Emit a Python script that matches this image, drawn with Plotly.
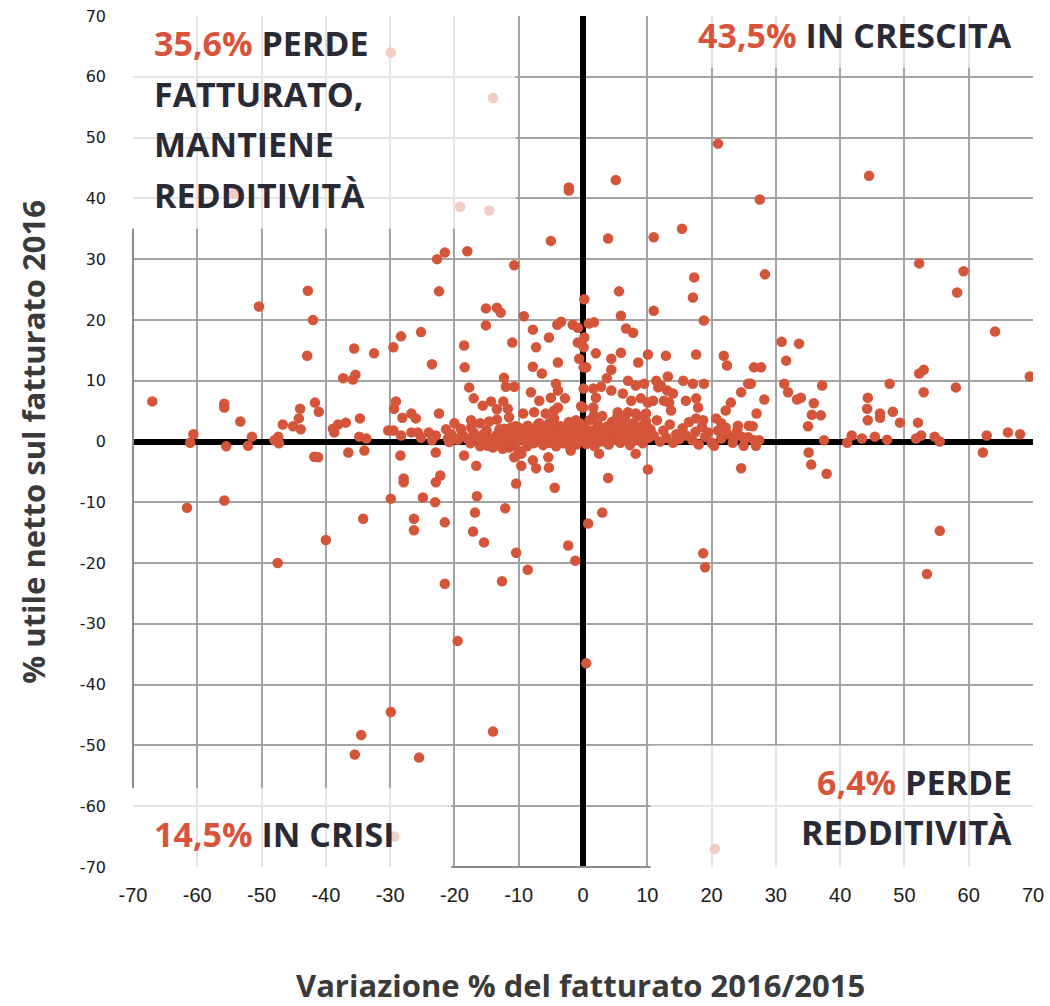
import plotly.graph_objects as go

# ---- data : (variazione % fatturato, % utile netto) ----
left_pts = [
    (-67, 6.6), (-61.6, -10.9), (-61.1, -0.2), (-60.6, 1.2), (-55.8, 6.2), (-55.8, 5.6),
    (-55.8, -9.7), (-55.5, -0.8), (-53.3, 3.3), (-52.1, -0.7), (-51.5, 0.8), (-50.4, 22.2),
    (-48, 0.2), (-47.4, 0.8), (-47.3, -0.3), (-47.5, -20), (-46.7, 2.8), (-45.1, 2.5),
    (-44.2, 3.8), (-44, 5.4), (-43.9, 2), (-42.9, 14.1), (-42.8, 24.8), (-42, 20),
    (-41.7, 6.4), (-41.1, 4.9), (-41.8, -2.5), (-41.2, -2.6), (-40, -16.2), (-38.9, 2.1),
    (-38.7, 1.5), (-38.1, 2.8), (-37.3, 10.4), (-36.9, 3.1), (-36.5, -1.8), (-35.8, 10.2),
    (-35.6, 15.3), (-35.4, 11), (-35.5, -51.5), (-34.8, 0.8), (-34.7, 3.8), (-34.5, -48.3),
    (-34.2, -12.7), (-34, -1.5), (-33.7, 0.5), (-32.5, 14.5), (-30.3, 1.8), (-29.9, -9.4),
    (-29.9, -44.5), (-29.5, 1.8), (-29.5, 15.5), (-29.4, 5.4), (-29.1, 6.6), (-28.4, -2.3),
    (-28.3, 17.3), (-28.3, 1), (-28.1, 3.9), (-27.9, -6.1), (-27.9, -6.7), (-26.7, 4.6),
    (-26.7, 1.5), (-26.3, -12.7), (-26.3, -14.6), (-26, 3.8), (-25.7, 1.5), (-25.5, -52),
    (-25.2, 18), (-25.2, 0.6), (-24.9, -9.2), (-24, 1.5), (-23.5, 12.7), (-23.5, 0.2),
    (-23, -10), (-22.9, 1), (-22.9, -1.8), (-22.9, -6.7), (-22.7, 30), (-22.4, 24.7),
    (-22.4, 4.6), (-22.2, -5.6), (-21.5, 31.1), (-21.5, -13.3), (-21.5, -23.4), (-21.3, 2),
    (-21, 0.5), (-20.5, 1.2),
]

hidden_pts = [
    (-54.3, 40.8), (-29.9, 64), (-29.4, -65), (-19.1, 38.6), (-14.6, 38), (-14, 56.5),
    (20.5, -67),
]

mid_left_pts = [
    (-20, 3), (-20.8, -0.1), (-19.4, 0.5), (-19.5, -32.8), (-19, 2.1), (-18.5, 15.8),
    (-18.5, -2.3), (-18.4, 12.2), (-18, 31.3), (-17.7, 8.9), (-17.4, 3.5), (-17.4, 2.3),
    (-17.1, -14.8), (-17, 7.1), (-16.8, -11.7), (-16.6, -4), (-16.5, -9), (-16, 3),
    (-15.9, -0.2), (-15.6, 5.9), (-15.4, 1.3), (-15.4, -16.6), (-15.1, 21.9), (-15.1, 19.1),
    (-14.8, -0.7), (-14.6, 3.3), (-14.3, 6.6), (-14, -1), (-14, -47.7), (-13.4, 22),
    (-13.4, 5.3), (-13.4, 3.6), (-12.8, 21.2), (-12.6, -23), (-12.4, 6.6), (-12.3, 10.5),
    (-12.3, 2.1), (-12.1, -11), (-12, 9), (-11.7, 5.4), (-11.5, 4), (-11.5, -1),
    (-11.2, 2.3), (-11, 16.3), (-10.7, 29), (-10.7, 9), (-10.7, -2.6), (-10.4, -6.9),
    (-10.4, -18.3), (-10, 2.3), (-9.6, -2), (-9.6, -4), (-9.3, 4.6), (-9.2, 20.6),
    (-8.6, 2.6), (-8.6, -21.1), (-8.1, 8.1), (-7.8, 18.4), (-7.8, 12.3), (-7.8, -3.1),
    (-7.6, 4.8), (-7.3, 15.5), (-7.3, -4.4), (-6.8, 6.7), (-6.8, 3), (-6.4, 11.2),
    (-5.8, 4.6), (-5.4, -2.6), (-5.3, 17.1), (-5.3, 3), (-5.3, -4.3), (-5, 33),
    (-5, 7.2), (-4.5, 5.1), (-4.4, -7.6), (-4.2, 9.5), (-4.2, 2.5), (-4, 19.2),
    (-3.9, 13), (-3.9, 8.4), (-3.9, 5.6), (-3.4, 19.7), (-2.8, 7.1), (-2.3, 2.5),
    (-2.3, -17.1), (-2.2, 41.8), (-2.2, 41.3), (-1.9, -1.5), (-1.6, 19.2), (-1.2, -19.6),
    (-1.1, 3.5), (-0.8, 18.7), (-0.8, 16.3), (-0.6, 13.6), (-0.3, 5.8),
]

mid_right_pts = [
    (0.1, 15.5), (0.2, 23.4), (0.2, 17.1), (0.1, 12.2), (0.1, 8.7), (0, 5.6),
    (0.5, 12.2), (0.5, -36.5), (0.8, -13.5), (0.9, 19.4), (1.6, 8.7), (1.6, 5.6),
    (1.7, 19.6), (1.7, 4.3), (2, 14.5), (2, 7.2), (2.5, -2), (2.8, 9),
    (3, -11.7), (3.7, 10.4), (3.9, 33.4), (3.9, -6), (4.4, 13.6), (4.4, 11.8),
    (4.4, 8.4), (5.1, 43), (5.4, 4.8), (5.6, 24.7), (5.9, 20.7), (5.9, 14.6),
    (6.2, 7.9), (6.7, 18.6), (7, 10), (7, 4.8), (7.5, 6.7), (7.8, 17.9),
    (8.2, 9.2), (8.2, 4.6), (8.2, -2), (8.6, 13), (9, 7.1), (9.5, 9.5),
    (9.8, 4.6), (10.1, 14.3), (10.1, 6.4), (10.1, -4.6), (10.9, 6.7), (11, 33.6),
    (11, 21.5), (11.4, 10), (11.7, 8.9), (12.1, 9.2), (12.6, 6.7), (12.9, 14.1),
    (13.1, 8.4), (13.2, 10.7), (13.4, 6.4), (13.7, 5.1), (14, 7.9), (15.4, 35),
    (15.6, 10), (16, 6.7), (17.1, 23.7), (17.1, 9.5), (17.3, 27), (17.6, 14.3),
    (17.6, 7.1), (17.6, 3.8), (17.9, 5.6), (18.7, 3.5), (18.7, -18.4), (18.8, 19.9),
    (18.8, 9.5), (19, -20.7), (20.4, -0.7), (20.7, 3.8), (21, 49), (21.5, 3),
    (21.9, 14.1), (22.2, 5.1), (22.2, 2.3), (22.4, 12.5), (23, 6.4), (23.3, -0.2),
    (24.1, 2.6), (24.6, 8.1), (24.6, -4.4), (24.9, 0.7), (25, -0.7), (25.7, 9.5),
    (25.7, 0.7), (25.8, 2.6), (26.1, 9.5), (26.4, 2.5), (26.6, 12.2), (26.6, 0.2),
    (26.9, -0.7), (27, 4.6), (27.4, 0.2), (27.5, 39.8), (27.7, 12.2), (28.2, 6.9),
    (28.3, 27.5),
]

right_pts = [
    (30.9, 16.4), (31.3, 9.5), (31.6, 13.3), (31.9, 8.1), (33.3, 6.9), (33.6, 16.1),
    (33.9, 7.2), (35, 2.5), (35.1, -1.8), (35.5, -3.8), (35.6, 4.4), (35.9, 6.3),
    (37, 4.3), (37.2, 9.2), (37.5, 0.2), (37.9, -5.3), (41.1, -0.2), (41.8, 1),
    (43.4, 0.5), (44.2, 5.4), (44.3, 7.2), (44.3, 3.5), (44.5, 43.7), (45.4, 0.8),
    (46.2, 4.6), (46.2, 3.9), (47.3, 0.3), (47.7, 9.5), (48.2, 4.9), (49.3, 3.1),
    (51.8, 0.5), (52.1, 3.1), (52.3, 11.2), (52.3, 29.3), (52.6, 1), (53, 11.8),
    (53, 8.1), (53.5, -21.8), (54.7, 0.8), (55.5, 0), (55.5, -14.7), (58, 8.9),
    (58.2, 24.5), (59.2, 28), (62.2, -1.8), (62.8, 1), (64.1, 18.1), (66.1, 1.5),
    (68, 1.2), (69.5, 10.7),
]

core_pts = [
    (-19.5, 0.3), (-18.8, 1.2), (-18, 0.5), (-17.5, -0.3), (-17, 1.5), (-16.5, 0.8),
    (-16, -0.8), (-15.5, 0.2), (-15, 1.8), (-14.5, 0.5), (-14, -0.3), (-13.5, 1),
    (-13, 2), (-12.8, 0), (-12.5, -1.2), (-12, 0.8), (-11.8, 1.5), (-11.5, 0.3),
    (-11, -0.5), (-10.8, 1.2), (-10.5, 2.5), (-10.2, 0.2), (-10, -1.5),
    (-9.5, 0.8), (-9.2, 1.8), (-9, 0), (-8.7, -0.8), (-8.5, 1.2), (-8.2, 2.2),
    (-8, 0.4), (-7.7, -0.3), (-7.5, 1.5), (-7.2, 0.7), (-7, 2.8), (-6.8, 0),
    (-6.5, 1), (-6.2, -0.6), (-6, 1.8), (-5.7, 0.3), (-5.5, 2.3), (-5.2, -0.2),
    (-5, 1.2), (-4.7, 0.6), (-4.5, 3.8), (-4.2, -0.8), (-4, 1.5), (-3.7, 0.2),
    (-3.5, 2.5), (-3.2, 0.9), (-3, -0.3), (-2.7, 1.8), (-2.5, 0.4), (-2.2, 3.2),
    (-2, -1), (-1.7, 1.2), (-1.5, 0.2), (-1.2, 2), (-1, -0.5), (-0.7, 0.8),
    (-0.5, 3), (-0.3, 1.5), (0, 0.3),
    (0.3, 2.2), (0.5, -0.4), (0.8, 1), (1, 3.5), (1.3, 0.2), (1.5, 1.8),
    (1.8, -0.8), (2, 0.7), (2.3, 2.8), (2.5, 1.3), (2.8, 0), (3, 4.2),
    (3.3, 1.8), (3.5, 0.5), (3.8, 2.5), (4, -0.5), (4.3, 1.2), (4.5, 3.2),
    (4.8, 0.3), (5, 2), (5.3, 4), (5.5, 0.9), (5.8, -0.2), (6, 2.7),
    (6.3, 1.5), (6.5, 3.8), (6.8, 0.5), (7, 2.2), (7.3, -0.6), (7.5, 1.2),
    (7.8, 3), (8, 0.2), (8.3, 1.8), (8.5, 4.2), (8.8, 0.8), (9, 2.5),
    (9.3, -0.3), (9.5, 1.5), (9.8, 3.3),
    (10.2, 0.6), (10.5, 2), (11, 1), (11.5, 3.5), (12, 0), (12.5, 1.8),
    (13, 0.6), (13.5, 2.8), (14, -0.2), (14.5, 1.2), (15, 0.4), (15.5, 2.2),
    (16, 1), (16.5, 3.2), (17, 0.2), (17.5, 1.6), (18, -0.5), (18.5, 2.4),
    (19, 0.8), (19.5, 1.5), (20, -0.2), (21, 1.8), (21.5, 0.5), (22.5, 1.2),
    (23.5, 0.6), (24, 1.8),
]

tick_vals = [-70, -60, -50, -40, -30, -20, -10, 0, 10, 20, 30, 40, 50, 60, 70]
tick_text = ["-70", "-60", "-50", "-40", "-30", "-20", "-10", "0", "10", "20", "30", "40", "50", "60", "70"]

x_title = "Variazione % del fatturato 2016/2015"
y_title = "% utile netto sul fatturato 2016"

RED = "#D5553A"
PCT = "#D9533B"
DARK = "#2A2A36"

all_pts = left_pts + hidden_pts + mid_left_pts + mid_right_pts + right_pts + core_pts
xs = [p[0] for p in all_pts]
ys = [p[1] for p in all_pts]

fig = go.Figure()
fig.add_trace(go.Scatter(
    x=xs, y=ys, mode="markers",
    marker=dict(color=RED, size=10.5, line=dict(width=0)),
    hoverinfo="x+y", showlegend=False,
))

grid = "#a3a3a3"
fig.update_xaxes(
    range=[-70, 70], tickvals=tick_vals, ticktext=tick_text,
    showgrid=True, gridcolor=grid, gridwidth=1.5,
    zeroline=True, zerolinecolor="black", zerolinewidth=6,
    showline=False, ticks="", automargin=False,
    tickfont=dict(family="Liberation Sans Narrow, Liberation Sans, Arial", size=20, color="#1a1a1a"),
    ticklabelstandoff=14,
)
fig.update_yaxes(
    range=[-70, 70], tickvals=tick_vals, ticktext=tick_text,
    showgrid=True, gridcolor=grid, gridwidth=1.5,
    zeroline=True, zerolinecolor="black", zerolinewidth=6,
    showline=False, ticks="", automargin=False,
    tickfont=dict(family="DejaVu Sans, Verdana", size=16, color="#1a1a1a"),
    ticklabelstandoff=26,
)

# white translucent boxes behind the quadrant labels
boxes = [(-70, -10.5, 35, 70), (10.5, 70, 61.5, 70), (-70, -20.5, -70, -57), (10.5, 70, -70, -50)]
shapes = []
for x0, x1, y0, y1 in boxes:
    shapes.append(dict(type="rect", xref="x", yref="y", x0=x0, x1=x1, y0=y0, y1=y1,
                       fillcolor="white", opacity=0.7, line=dict(width=0), layer="above"))
# visible parts of the axis lines
shapes.append(dict(type="line", xref="paper", yref="y", x0=0, x1=0, y0=-57, y1=35,
                   line=dict(color="#8c8c8c", width=2), layer="above"))
shapes.append(dict(type="line", xref="x", yref="paper", x0=-20.5, x1=10.5, y0=0, y1=0,
                   line=dict(color="#8c8c8c", width=2), layer="above"))

lab_font = dict(family="Open Sans, Noto Sans, Arial", size=34, color=DARK, weight="bold")

def pct(s):
    return f"<span style='color:{PCT}'>{s}</span>"

ann = []
tl_lines = [(pct("35,6%") + " PERDE", 65.6), ("FATTURATO,", 57.2), ("MANTIENE", 48.9), ("REDDITIVITÀ", 40.6)]
for t, yv in tl_lines:
    ann.append(dict(x=-67.0, y=yv, xref="x", yref="y", text=t, showarrow=False,
                    xanchor="left", yanchor="middle", font=lab_font))
ann.append(dict(x=67.0, y=66.8, xref="x", yref="y", text=pct("43,5%") + " IN CRESCITA",
                showarrow=False, xanchor="right", yanchor="middle", font=lab_font))
ann.append(dict(x=67.0, y=-56.0, xref="x", yref="y", text=pct("6,4%") + " PERDE",
                showarrow=False, xanchor="right", yanchor="middle", font=lab_font))
ann.append(dict(x=67.0, y=-64.3, xref="x", yref="y", text="REDDITIVITÀ",
                showarrow=False, xanchor="right", yanchor="middle", font=lab_font))
ann.append(dict(x=-67.0, y=-64.5, xref="x", yref="y", text=pct("14,5%") + " IN CRISI",
                showarrow=False, xanchor="left", yanchor="middle", font=lab_font))

title_font = dict(family="Open Sans, Noto Sans, Arial", size=31, color="#3a3a3a", weight="bold")
ann.append(dict(x=0.497, y=-0.1387, xref="paper", yref="paper", text=x_title, showarrow=False,
                xanchor="center", yanchor="middle", font=title_font))
ann.append(dict(x=-0.112, y=0.5, xref="paper", yref="paper", text=y_title, showarrow=False,
                textangle=-90, xanchor="center", yanchor="middle", font=title_font))

fig.update_layout(
    width=1050, height=1006, autosize=False,
    margin=dict(l=133, r=17, t=16, b=139),
    paper_bgcolor="white", plot_bgcolor="white",
    shapes=shapes, annotations=ann, showlegend=False,
)

fig.write_html("out.html", config={"displayModeBar": False},
               post_script="document.body.style.margin='0px';document.body.style.padding='0px';")
